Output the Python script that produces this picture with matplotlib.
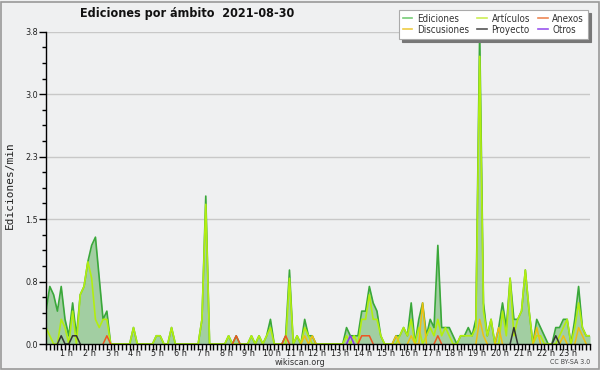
import numpy as np
import matplotlib
matplotlib.use("Agg")
import matplotlib.pyplot as plt
import matplotlib.transforms as mtransforms
from matplotlib.lines import Line2D
from matplotlib.patches import Rectangle

# edits per minute, one value per 10-minute slot (144 slots)
ediciones = [
    0.4, 0.7, 0.6, 0.4, 0.7, 0.3, 0.1, 0.5, 0.1, 0.6, 0.7, 1.0,
    1.2, 1.3, 0.8, 0.3, 0.4, 0, 0, 0, 0, 0, 0, 0.2,
    0, 0, 0, 0, 0, 0.1, 0.1, 0, 0, 0.2, 0, 0,
    0, 0, 0, 0, 0, 0.3, 1.8, 0, 0, 0, 0, 0,
    0.1, 0, 0.1, 0, 0, 0, 0.1, 0, 0.1, 0, 0.1, 0.3,
    0, 0, 0, 0.1, 0.9, 0, 0.1, 0, 0.3, 0.1, 0.1, 0,
    0, 0, 0, 0, 0, 0, 0, 0.2, 0.1, 0.1, 0.1, 0.4,
    0.4, 0.7, 0.5, 0.4, 0.1, 0, 0, 0, 0.1, 0.1, 0.2, 0.1,
    0.5, 0, 0.3, 0.5, 0.1, 0.3, 0.2, 1.2, 0.2, 0.2, 0.2, 0.1,
    0, 0.1, 0.1, 0.2, 0.1, 0.3, 3.8, 0.5, 0.1, 0.3, 0, 0.2,
    0.5, 0.2, 0.8, 0.3, 0.3, 0.4, 0.9, 0.4, 0, 0.3, 0.2, 0.1,
    0, 0, 0.2, 0.2, 0.3, 0.3, 0, 0.3, 0.7, 0.2, 0.1, 0.1,
]
articulos = [
    0.2, 0.1, 0, 0, 0.3, 0.2, 0, 0.4, 0, 0.6, 0.7, 1.0,
    0.8, 0.3, 0.2, 0.3, 0.3, 0, 0, 0, 0, 0, 0, 0.2,
    0, 0, 0, 0, 0, 0.1, 0.1, 0, 0, 0.2, 0, 0,
    0, 0, 0, 0, 0, 0.3, 1.7, 0, 0, 0, 0, 0,
    0.1, 0, 0, 0, 0, 0, 0.1, 0, 0.1, 0, 0.1, 0.2,
    0, 0, 0, 0, 0.8, 0, 0.1, 0, 0.2, 0.1, 0, 0,
    0, 0, 0, 0, 0, 0, 0, 0.1, 0, 0.1, 0, 0.3,
    0.3, 0.6, 0.3, 0.3, 0.1, 0, 0, 0, 0, 0.1, 0.2, 0.1,
    0.3, 0, 0.2, 0, 0.1, 0.2, 0.1, 0.3, 0.1, 0.2, 0.1, 0,
    0, 0.1, 0.1, 0.1, 0.1, 0.2, 3.5, 0.4, 0.1, 0.3, 0, 0,
    0.4, 0.1, 0.8, 0.1, 0.3, 0.4, 0.9, 0.4, 0, 0.1, 0.1, 0,
    0, 0, 0, 0.1, 0.2, 0.3, 0, 0.2, 0.5, 0.2, 0.1, 0.1,
]
# sparse series: slot index -> value
discusiones_idx = [68, 70, 92, 96, 99, 114, 115, 119, 129, 136, 140, 141]
discusiones_val = [0.1, 0.1, 0.1, 0.1, 0.5, 0.3, 0.1, 0.2, 0.2, 0.1, 0.2, 0.1]
proyecto_idx = [4, 7, 8, 123, 134]
proyecto_val = [0.1, 0.1, 0.1, 0.2, 0.1]
anexos_idx = [16, 50, 63, 83, 84, 85, 103]
anexos_val = [0.1, 0.1, 0.1, 0.1, 0.1, 0.1, 0.1]
otros_idx = [80]
otros_val = [0.1]

hours = list(range(1, 24))
hour_labels = [f"{h} h" for h in hours]

n = len(ediciones)
x = np.arange(n)


def sparse(idx, val):
    s = np.zeros(n)
    s[idx] = val
    # hide long runs sitting on the baseline
    keep = np.convolve(s > 0, [1, 1, 1], mode="same") > 0
    return np.where(keep, s, np.nan)


bg = "#eff0f1"
fig = plt.figure(figsize=(6, 3.7), dpi=100, facecolor=bg)
ax = fig.add_axes([46 / 600, 26 / 370, 544 / 600, 312.3 / 370])
ax.set_facecolor(bg)

ed = np.array(ediciones)
ax.fill_between(x, ed, color="#a2cea2", lw=0, zorder=1)
ax.plot(x, ed, color="#3aa83a", lw=1.2, zorder=2)
ax.plot(x, np.array(articulos), color="#b2ee10", lw=1.2, zorder=2)
ax.plot(x, sparse(discusiones_idx, discusiones_val), color="#f0c010", lw=1.1, zorder=2)
ax.plot(x, sparse(proyecto_idx, proyecto_val), color="#333333", lw=1.1, zorder=2)
ax.plot(x, sparse(anexos_idx, anexos_val), color="#ee5522", lw=1.1, zorder=2)
ax.plot(x, sparse(otros_idx, otros_val), color="#8833ee", lw=1.1, zorder=2)

ymax = ed.max()
ax.set_xlim(0, 142.5)
ax.set_ylim(0, ymax)

ax.set_xticks([h * 6 for h in hours])
ax.set_xticklabels(hour_labels)
ax.set_xticks(x, minor=True)
yt = np.linspace(0, ymax, 6)
ax.set_yticks(yt)
ax.set_yticklabels([f"{v:.1f}" for v in yt])
ax.set_yticks(np.linspace(0, ymax, 21), minor=True)

font = dict(family="DejaVu Sans", stretch="condensed")
for lab in ax.get_xticklabels() + ax.get_yticklabels():
    lab.set_fontfamily("DejaVu Sans")
    lab.set_fontstretch("condensed")
    lab.set_fontsize(6.5)
    lab.set_color("#222222")

ax.tick_params(axis="x", which="both", direction="out", length=4, width=1, pad=-0.5)
ax.tick_params(axis="y", which="major", direction="out", length=5, width=1, pad=1)
ax.tick_params(axis="y", which="minor", direction="out", length=3, width=1)

offset = mtransforms.ScaledTranslation(-0.025, 0, fig.dpi_scale_trans)
for lab in ax.get_xticklabels():
    lab.set_transform(lab.get_transform() + offset)

ax.yaxis.grid(True, color="#c8c8c8", lw=1)
ax.set_axisbelow(True)
for side in ["top", "right"]:
    ax.spines[side].set_visible(False)
for side in ["left", "bottom"]:
    ax.spines[side].set_linewidth(1)
    ax.spines[side].set_zorder(3)

fig.text(187 / 600, 1 - 14 / 370, "Ediciones por ámbito  2021-08-30",
         ha="center", va="center", fontsize=9, fontweight="bold", color="#111111", **font)
fig.text(10 / 600, 1 - 185 / 370, "Ediciones/min", rotation=90, ha="center", va="center",
         family="DejaVu Sans Mono", fontsize=8, color="#222222")
fig.text(300 / 600, 1 - 362.5 / 370, "wikiscan.org", ha="center", va="center",
         fontsize=6.5, color="#333333", **font)
fig.text(590 / 600, 1 - 362.5 / 370, "CC BY-SA 3.0", ha="right", va="center",
         fontsize=5, color="#444444", **font)

handles = [
    Line2D([], [], color="#77cc77", lw=1.2),
    Line2D([], [], color="#eecc44", lw=1.2),
    Line2D([], [], color="#ccee55", lw=1.2),
    Line2D([], [], color="#555555", lw=1.2),
    Line2D([], [], color="#ee8855", lw=1.2),
    Line2D([], [], color="#9955ee", lw=1.2),
]
labels = ["Ediciones", "Discusiones", "Artículos", "Proyecto", "Anexos", "Otros"]
leg = fig.legend(handles, labels, ncol=3, loc="upper right",
                 bbox_to_anchor=(588 / 600, 1 - 10 / 370),
                 prop=dict(family="DejaVu Sans", stretch="condensed", size=7),
                 frameon=True, fancybox=False, shadow={"color": "#777777", "alpha": 1},
                 handlelength=1.0, handletextpad=0.5, columnspacing=0.8,
                 labelspacing=0.1, borderpad=0.4, borderaxespad=0)
leg.get_frame().set_edgecolor("#aaaaaa")
leg.get_frame().set_linewidth(0.8)
leg.get_frame().set_facecolor("white")
for t in leg.get_texts():
    t.set_color("#333333")

fig.patches.append(Rectangle((0.5 / 600, 1.5 / 370), 598 / 600, 367 / 370,
                             transform=fig.transFigure, fill=False,
                             edgecolor="#999999", lw=1.2))

fig.savefig("out.png", dpi=100, facecolor=bg)
